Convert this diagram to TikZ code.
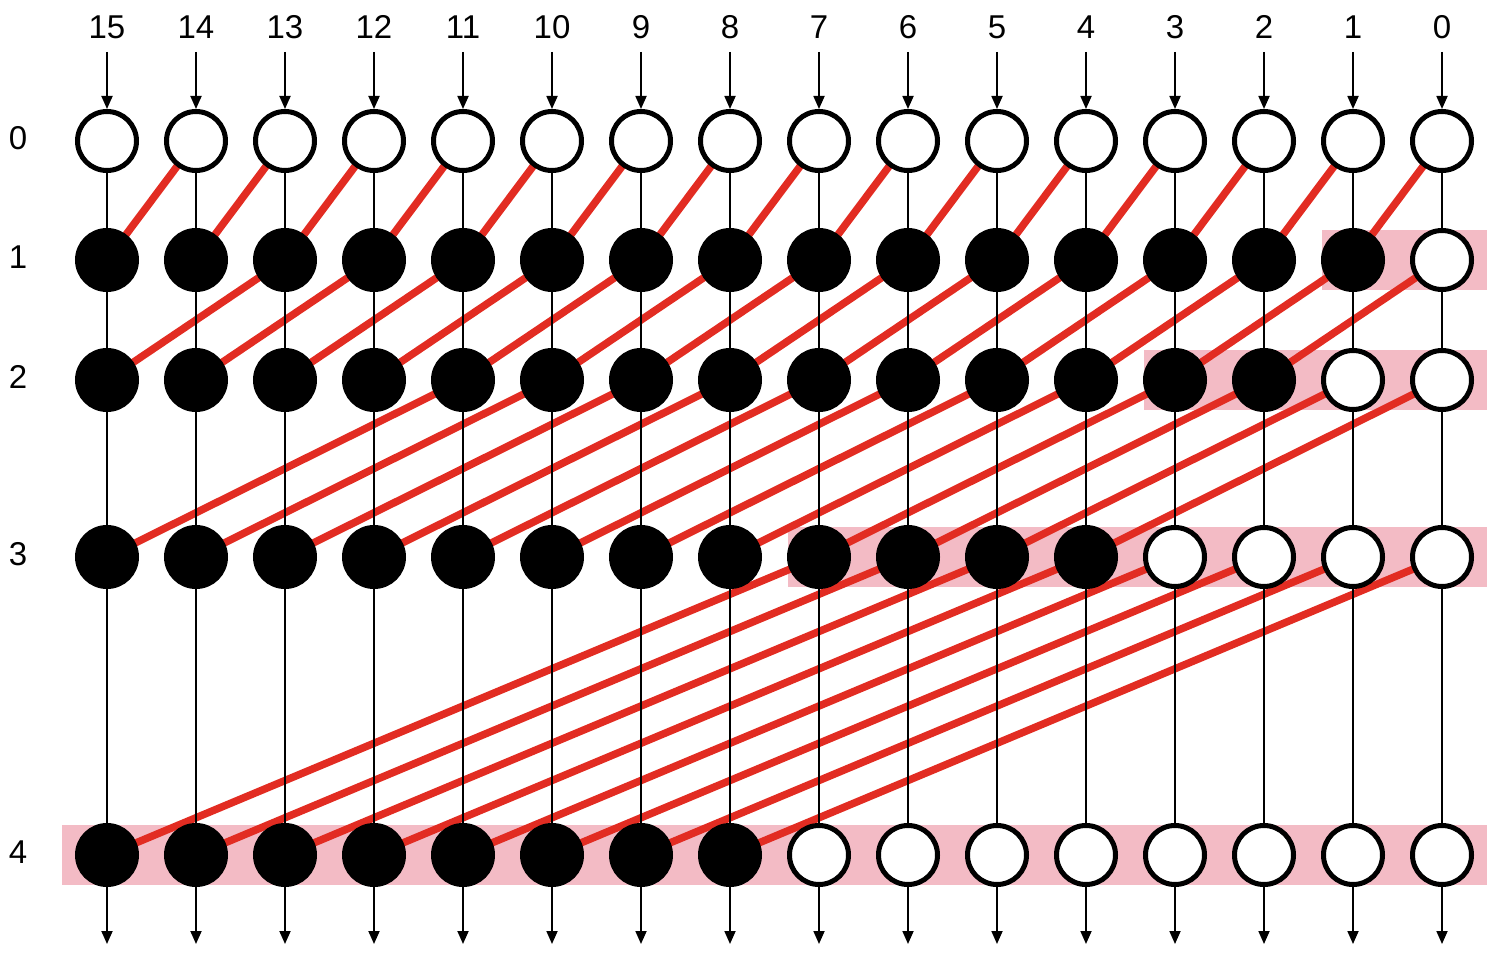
\documentclass[tikz,border=0pt]{standalone}
\usepackage{fontspec}
\setmainfont{Liberation Sans}
\usetikzlibrary{arrows.meta,calc}
\definecolor{hlpink}{RGB}{243,187,197}
\definecolor{linkred}{RGB}{226,44,34}
\begin{document}
\begin{tikzpicture}[x=1pt,y=-1pt,
  nodeopen/.style={circle,draw=black,line width=5pt,fill=white,minimum size=59pt,inner sep=0pt},
  nodefull/.style={nodeopen,fill=black},
  link/.style={linkred,line width=7.5pt},
  wire/.style={black,line width=1.8pt},
  arr/.style={wire,-{Triangle[length=13pt,width=11pt]}},
  hl/.style={fill=hlpink},
  lbl/.style={font=\fontsize{33}{40}\selectfont,inner sep=0pt}]
\useasboundingbox (0,0) rectangle (1500,960);
\def\rowy{{141,260,380,557,855}}
\foreach \c in {0,...,15}{
  \pgfmathsetmacro\xx{1442-89*\c}
  \coordinate (top-\c) at (\xx,52);
  \coordinate (bot-\c) at (\xx,944);
  \node[lbl] (cl-\c) at (\xx,27) {\c};
  \foreach \r in {0,...,4}{
    \pgfmathsetmacro\yy{\rowy[\r]}
    \coordinate (p-\r-\c) at (\xx,\yy);
  }
}
\foreach \r in {0,...,4}{
  \pgfmathsetmacro\yy{\rowy[\r]-3}
  \node[lbl] (rl-\r) at (18,\yy) {\r};
}
% highlight bands
\foreach \r/\lc/\lo in {1/1/31,2/3/31,3/7/31,4/15/45}{
  \fill[hl] ($(p-\r-\lc)+(-\lo,-30)$) rectangle ($(p-\r-0)+(45,30)$);
}
% red links
\foreach \r in {1,...,4}{
  \pgfmathtruncatemacro\s{2^(\r-1)}
  \pgfmathtruncatemacro\m{15-\s}
  \pgfmathtruncatemacro\rp{\r-1}
  \foreach \c in {0,...,\m}{
    \pgfmathtruncatemacro\d{\c+\s}
    \draw[link] (p-\rp-\c) -- (p-\r-\d);
  }
}
% vertical wires
\foreach \c in {0,...,15}{
  \foreach \r in {0,...,3}{
    \pgfmathtruncatemacro\rn{\r+1}
    \draw[wire] (p-\r-\c) -- (p-\rn-\c);
  }
}
% nodes
\foreach \c in {0,...,15}{
  \foreach \r in {0,...,4}{
    \pgfmathtruncatemacro\f{ifthenelse(\r>0,ifthenelse(\c>=2^(\r-1),1,0),0)}
    \ifnum\f=1
      \node[nodefull] (n-\r-\c) at (p-\r-\c) {};
    \else
      \node[nodeopen] (n-\r-\c) at (p-\r-\c) {};
    \fi
  }
  \draw[arr] (top-\c) -- (n-0-\c);
  \draw[arr] (n-4-\c) -- (bot-\c);
}
\end{tikzpicture}
\end{document}
